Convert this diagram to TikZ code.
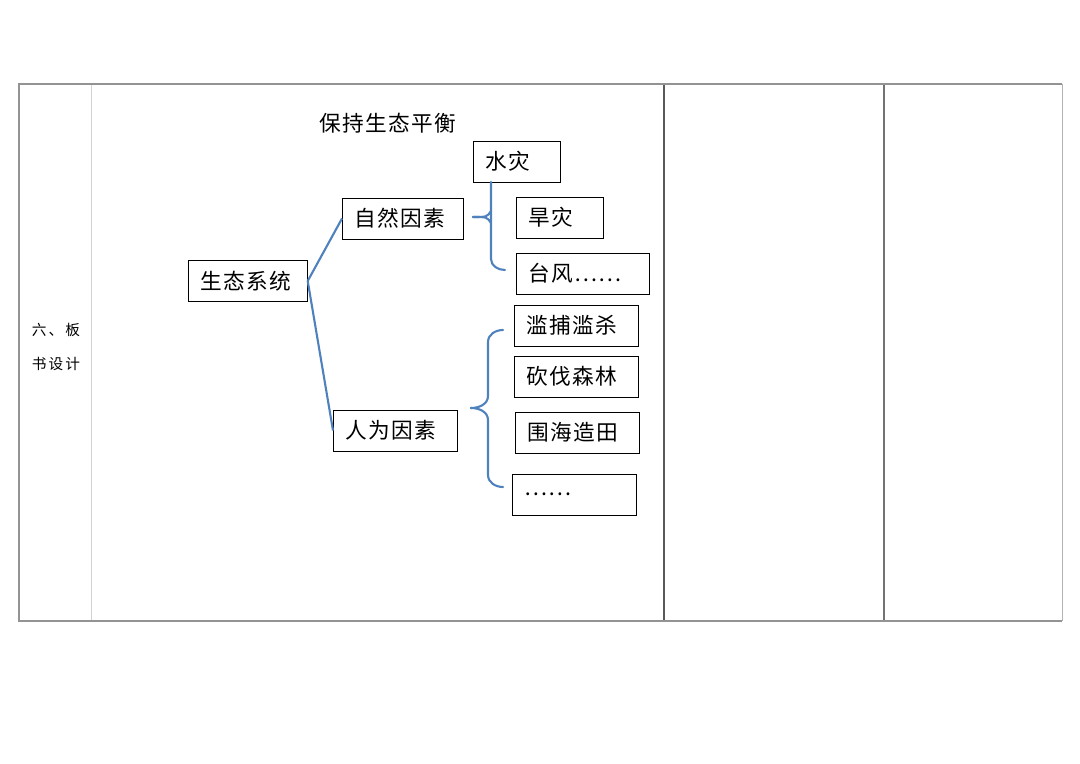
\documentclass[tikz,border=0pt]{standalone}
\usepackage{fontspec}
\usepackage{tikz}
\usetikzlibrary{positioning}
\usepackage{xcolor}
\newfontfamily\cjk[LetterSpace=6]{Noto Sans CJK SC}
\newfontfamily\cjkcell[LetterSpace=14]{Noto Sans CJK SC}
\definecolor{linkblue}{HTML}{4F81BD}

\begin{document}
\begin{tikzpicture}[x=0.03cm, y=-0.03cm,
  item/.style={draw=black, fill=white, line width=0.6pt, anchor=west, inner xsep=0.36cm, inner ysep=0pt, minimum height=1.23cm, align=left, font=\cjk\fontsize{18.5}{22}\selectfont},
  link/.style={draw=linkblue, line width=1.8pt},
  brace/.style={draw=linkblue, line width=1.8pt, line cap=round}]
  \useasboundingbox (0,0) rectangle (1080,764);

  % Table frame
  \draw[gray!60, line width=0.8pt] (1062,84) -- (1062,621);
  \draw[gray!35, line width=0.8pt] (91,84) -- (91,621);
  \draw[black!65, line width=1.0pt] (664,84) -- (664,621);
  \draw[black!55, line width=1.0pt] (884,84) -- (884,621);
  \draw[gray!85, line width=1.6pt] (1062,84) -- (19,84) -- (19,621) -- (1062,621);

  % Left cell
  \node[font=\cjkcell\fontsize{12.5}{15}\selectfont] (cellA) at (56,330) {六、板};
  \node[font=\cjkcell\fontsize{12.5}{15}\selectfont] (cellB) at (56,364) {书设计};

  % Title
  \node[font=\cjk\fontsize{18.5}{22}\selectfont] (title) at (388,123) {保持生态平衡};

  % Boxes
  \node[item, text width=2.85cm] (sys) at (188,281) {生态系统};
  \node[item, text width=2.91cm] (nat) at (342,218.5) {自然因素};
  \node[item, text width=3.00cm] (hum) at (333,430.5) {人为因素};
  \node[item, text width=1.89cm] (flood) at (473,161.5) {水灾};
  \node[item, text width=1.89cm] (drought) at (516,217.5) {旱灾};
  \node[item, text width=3.27cm] (typhoon) at (516,273.5) {台风……};
  \node[item, text width=3.00cm] (hunt) at (514,325.5) {滥捕滥杀};
  \node[item, text width=3.00cm] (logging) at (514,376.5) {砍伐森林};
  \node[item, text width=3.00cm] (reclaim) at (515,432.5) {围海造田};
  \node[item, text width=3.00cm] (etc) at (512,494.5) {……};

  % Links
  \draw[link] (sys.east) -- (nat.west);
  \draw[link] (sys.east) -- (hum.west);

  % Upper brace
  \coordinate (topA) at (491,182);
  \coordinate (nubA) at (473,217);
  \coordinate (endA) at (505,270);
  \draw[brace] (topA) -- (491,259) to[out=-90,in=180] (endA);
  \draw[brace] (nubA) .. controls (487,217) .. (491,211);
  \draw[brace] (nubA) .. controls (487,217) .. (491,223);

  % Lower brace
  \coordinate (topB) at (503,330);
  \coordinate (nubB) at (471,408);
  \coordinate (endB) at (503,487);
  \draw[brace] (topB) to[out=180,in=90] (488,342) -- (488,396) to[out=-90,in=0] (nubB);
  \draw[brace] (nubB) to[out=0,in=90] (488,420) -- (488,475) to[out=-90,in=180] (endB);
\end{tikzpicture}
\end{document}
